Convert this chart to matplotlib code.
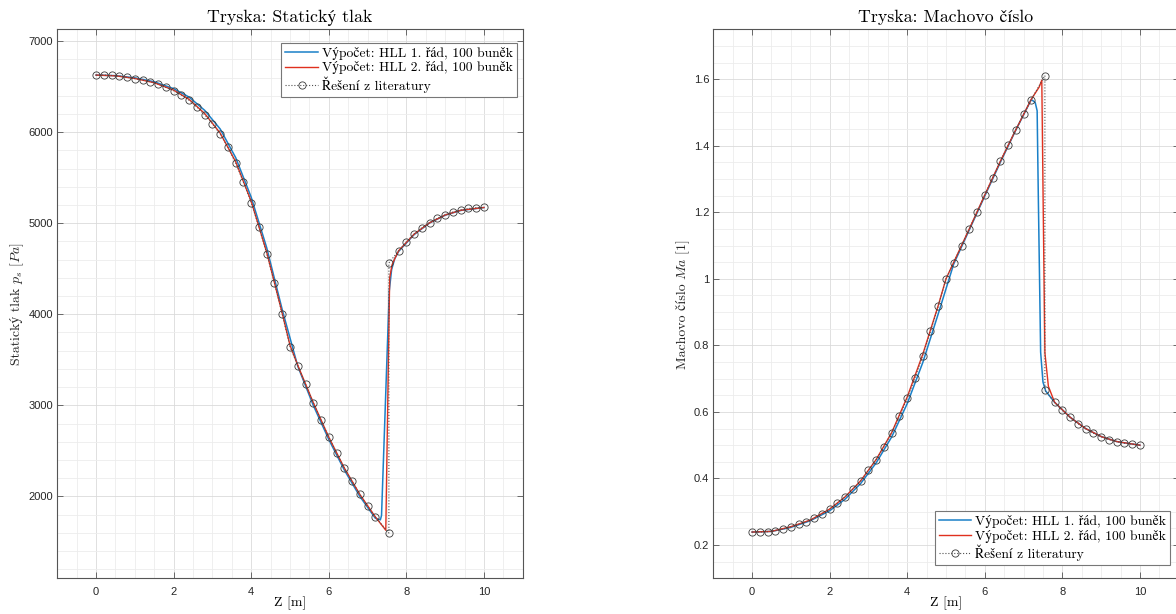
import matplotlib
matplotlib.use("Agg")
import matplotlib.pyplot as plt
from matplotlib.ticker import MultipleLocator

# ---------------- data ----------------
x_lit = [0.0, 0.2, 0.4, 0.6, 0.8, 1.0, 1.2, 1.4, 1.6, 1.8, 2.0, 2.2, 2.4, 2.6, 2.8,
         3.0, 3.2, 3.4, 3.6, 3.8, 4.0, 4.2, 4.4, 4.6, 4.8, 5.0, 5.2, 5.4, 5.6, 5.8,
         6.0, 6.2, 6.4, 6.6, 6.8, 7.0, 7.2, 7.55, 7.55, 7.8, 8.0, 8.2, 8.4, 8.6,
         8.8, 9.0, 9.2, 9.4, 9.6, 9.8, 10.0]
p_lit = [6627, 6627, 6623, 6616, 6603, 6588, 6572, 6554, 6529, 6492, 6456, 6408,
         6350, 6276, 6192, 6094, 5978, 5836, 5661, 5451, 5227, 4959, 4667, 4344,
         4000, 3645, 3436, 3231, 3030, 2835, 2652, 2476, 2311, 2165, 2022, 1890,
         1773, 1597, 4564, 4697, 4796, 4882, 4951, 5007, 5054, 5092, 5123, 5144,
         5162, 5170, 5174]
ma_lit = [0.239, 0.239, 0.240, 0.243, 0.248, 0.255, 0.262, 0.270, 0.280, 0.293,
          0.308, 0.326, 0.345, 0.368, 0.393, 0.424, 0.457, 0.495, 0.538, 0.587,
          0.641, 0.702, 0.769, 0.842, 0.917, 1.000, 1.049, 1.100, 1.150, 1.200,
          1.252, 1.303, 1.353, 1.401, 1.448, 1.494, 1.539, 1.611, 0.665, 0.629,
          0.605, 0.584, 0.565, 0.550, 0.536, 0.526, 0.517, 0.511, 0.506, 0.503,
          0.500]

x_p1 = [0.0, 0.5, 1.0, 1.5, 2.0, 2.4, 2.8, 3.2, 3.6, 4.0, 4.4, 4.8, 5.2, 5.6,
        6.0, 6.4, 6.8, 7.2, 7.33, 7.36, 7.56, 7.62, 7.7, 7.8, 8.2, 8.6, 9.0,
        9.4, 10.0]
p_hll1 = [6627, 6621, 6597, 6553, 6478, 6385, 6240, 6035, 5720, 5285, 4730,
          4050, 3430, 3000, 2625, 2290, 2000, 1760, 1742, 1790, 4260, 4490,
          4610, 4690, 4875, 5003, 5088, 5140, 5172]

x_p2 = [0.0, 0.5, 1.0, 1.5, 2.0, 2.4, 2.8, 3.2, 3.6, 4.0, 4.4, 4.8, 5.0, 5.2,
        5.6, 6.0, 6.4, 6.8, 7.2, 7.47, 7.57, 7.63, 7.7, 7.8, 8.2, 8.6, 9.0,
        9.4, 10.0]
p_hll2 = [6627, 6619, 6590, 6543, 6462, 6360, 6205, 5990, 5675, 5240, 4680,
          4010, 3660, 3440, 3030, 2650, 2312, 2022, 1775, 1628, 4400, 4540,
          4610, 4697, 4880, 5005, 5090, 5142, 5173]

x_m1 = [0.0, 0.5, 1.0, 1.5, 2.0, 2.4, 2.8, 3.2, 3.6, 4.0, 4.4, 4.8, 5.2, 5.6,
        6.0, 6.4, 6.8, 7.2, 7.3, 7.35, 7.38, 7.44, 7.5, 7.57, 7.8, 8.2, 8.6,
        9.0, 9.4, 10.0]
ma_hll1 = [0.239, 0.241, 0.253, 0.273, 0.303, 0.338, 0.385, 0.447, 0.525, 0.625,
           0.748, 0.895, 1.045, 1.147, 1.249, 1.350, 1.447, 1.539, 1.530, 1.505,
           1.250, 0.780, 0.690, 0.663, 0.629, 0.584, 0.550, 0.526, 0.511, 0.500]

x_m2 = [0.0, 0.5, 1.0, 1.5, 2.0, 2.4, 2.8, 3.2, 3.6, 4.0, 4.4, 4.8, 5.0, 5.2,
        5.6, 6.0, 6.4, 6.8, 7.2, 7.3, 7.4, 7.47, 7.51, 7.55, 7.64, 7.8, 8.2,
        8.6, 9.0, 9.4, 10.0]
ma_hll2 = [0.239, 0.241, 0.255, 0.275, 0.308, 0.345, 0.393, 0.457, 0.538, 0.645,
           0.773, 0.920, 1.000, 1.050, 1.150, 1.252, 1.353, 1.448, 1.540, 1.558,
           1.576, 1.597, 1.177, 0.778, 0.677, 0.629, 0.584, 0.550, 0.526, 0.511,
           0.500]

labels = ["Výpočet: HLL 1. řád, 100 buněk",
          "Výpočet: HLL 2. řád, 100 buněk",
          "Řešení z literatury"]
titles = ["Tryska: Statický tlak", "Tryska: Machovo číslo"]
ylab_text = ["Statický tlak", "Machovo číslo"]
ylab_math = [r"$p_s$ $[Pa]$", r"$Ma$ [1]"]
xlab = "Z [m]"

# ---------------- style ----------------
SERIF = ['cmr10', 'STIXGeneral', 'DejaVu Serif']
SANS = ['Liberation Sans', 'DejaVu Sans']
plt.rcParams['font.family'] = SANS
plt.rcParams['mathtext.fontset'] = 'cm'
C_BLUE = '#1a80c8'
C_RED = '#e0301e'
C_LIT = '#505050'
C_AX = '#555555'

W, H = 1176.0, 614.0
fig = plt.figure(figsize=(W / 100, H / 100), dpi=100)
axL = fig.add_axes([57.3 / W, (H - 578.3) / H, 465.4 / W, 549.0 / H])
axR = fig.add_axes([713.3 / W, (H - 578.3) / H, 465.4 / W, 549.0 / H])


def style(ax, ylim, ymaj, ymin):
    ax.set_xlim(-1, 11)
    ax.set_ylim(*ylim)
    ax.xaxis.set_major_locator(MultipleLocator(2))
    ax.xaxis.set_minor_locator(MultipleLocator(0.5))
    ax.yaxis.set_major_locator(MultipleLocator(ymaj))
    ax.yaxis.set_minor_locator(MultipleLocator(ymin))
    ax.grid(which='major', color='#dadada', lw=0.6)
    ax.grid(which='minor', color='#ececec', lw=0.6)
    ax.set_axisbelow(True)
    ax.tick_params(which='major', direction='in', length=4, width=0.6,
                   color=C_AX, top=True, right=True, labelsize=8,
                   labelcolor='#262626', pad=3)
    ax.tick_params(axis='x', which='major', pad=6)
    ax.tick_params(which='minor', length=0, top=True, right=True)
    for s in ax.spines.values():
        s.set_color(C_AX)
        s.set_linewidth(0.8)


def draw(ax, x1, y1, x2, y2, yl):
    ax.plot(x1, y1, color=C_BLUE, lw=1.1, label=labels[0], zorder=3)
    ax.plot(x2, y2, color=C_RED, lw=1.0, label=labels[1], zorder=4)
    ax.plot(x_lit, yl, ls=':', color=C_LIT, lw=0.8, marker='o', ms=5.2,
            mfc='none', mec='#3a3a3a', mew=0.6, label=labels[2], zorder=5)


draw(axL, x_p1, p_hll1, x_p2, p_hll2, p_lit)
draw(axR, x_m1, ma_hll1, x_m2, ma_hll2, ma_lit)

style(axL, (1100, 7130), 1000, 200)
style(axR, (0.1, 1.75), 0.2, 0.05)
axR.set_yticks([0.2, 0.4, 0.6, 0.8, 1.0, 1.2, 1.4, 1.6])
axR.set_yticklabels(['0.2', '0.4', '0.6', '0.8', '1', '1.2', '1.4', '1.6'])

for ax, t in zip((axL, axR), titles):
    ax.set_title(t, fontfamily=SERIF, fontsize=12.8, pad=5)
    ax.set_xlabel(xlab, fontfamily=SERIF, fontsize=10, labelpad=0)

leg_kw = dict(frameon=True, fancybox=False, borderpad=0.3,
              handlelength=2.4, handletextpad=0.3, labelspacing=0.12,
              borderaxespad=0.0, prop={'family': SERIF, 'size': 9.8})
lL = axL.legend(loc='upper right', bbox_to_anchor=(0.9878, 0.9756), **leg_kw)
lR = axR.legend(loc='lower right', bbox_to_anchor=(0.982, 0.0242), **leg_kw)
for lg in (lL, lR):
    fr = lg.get_frame()
    fr.set_edgecolor('#777777')
    fr.set_linewidth(0.8)
    fr.set_alpha(1)

# y labels: plain part (with Czech letters) + math part, stacked along baseline
fig.canvas.draw()
renderer = fig.canvas.get_renderer()
y_center = 304.0
for xb, plain, math in zip((20.0, 686.0), ylab_text, ylab_math):
    kw = dict(rotation=90, rotation_mode='anchor', ha='left', va='baseline',
              fontsize=10, color='#262626')
    t1 = fig.text(xb / W, 0.5, plain, fontfamily=SERIF, **kw)
    t2 = fig.text(xb / W, 0.5, math, fontfamily=SERIF, **kw)
    e1 = t1.get_window_extent(renderer)
    e2 = t2.get_window_extent(renderer)
    gap = 3.5
    total = e1.height + gap + e2.height
    start = (H - y_center) - total / 2.0
    t1.set_position((xb / W, start / H))
    t2.set_position((xb / W, (start + e1.height + gap) / H))

fig.savefig("out.png", dpi=100)
